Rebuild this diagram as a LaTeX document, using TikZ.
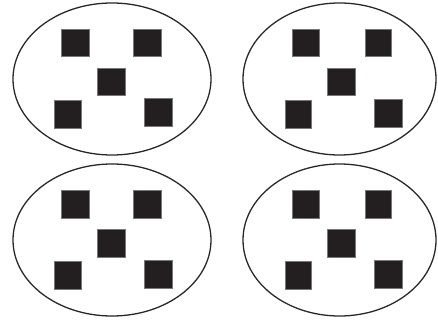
\documentclass[tikz,border=0pt]{standalone}
\begin{document}
\begin{tikzpicture}[x=1pt,y=-1pt,
  cell/.style={draw={rgb,255:red,40;green,40;blue,40}, line width=1.3pt},
  blk/.style={fill={rgb,255:red,35;green,31;blue,32}, draw={rgb,255:red,120;green,120;blue,120}, line width=0.3pt}]
\useasboundingbox (0,0) rectangle (438,320);
% top-left
\draw[cell] (112,79) ellipse [x radius=99, y radius=76];
\fill[blk] (61,29) rectangle (89,56);
\fill[blk] (133,29) rectangle (161,56);
\fill[blk] (97,68) rectangle (125,95);
\fill[blk] (54,100) rectangle (81,128);
\fill[blk] (144,98) rectangle (172,126);
% top-right
\draw[cell] (339.5,79) ellipse [x radius=96.5, y radius=76];
\fill[blk] (292,29) rectangle (319,56);
\fill[blk] (365,29) rectangle (391,56);
\fill[blk] (327,68) rectangle (355,95);
\fill[blk] (285,100) rectangle (311,128);
\fill[blk] (374,99) rectangle (402,127);
% bottom-left
\draw[cell] (112,240) ellipse [x radius=99, y radius=76];
\fill[blk] (61,190) rectangle (89,218);
\fill[blk] (133,190) rectangle (161,218);
\fill[blk] (97,229) rectangle (125,257);
\fill[blk] (54,261) rectangle (81,289);
\fill[blk] (144,260) rectangle (172,288);
% bottom-right
\draw[cell] (339.5,240) ellipse [x radius=96.5, y radius=76];
\fill[blk] (292,190) rectangle (319,218);
\fill[blk] (365,190) rectangle (391,218);
\fill[blk] (327,229) rectangle (355,257);
\fill[blk] (285,261) rectangle (311,289);
\fill[blk] (374,260) rectangle (402,288);
\end{tikzpicture}
\end{document}
